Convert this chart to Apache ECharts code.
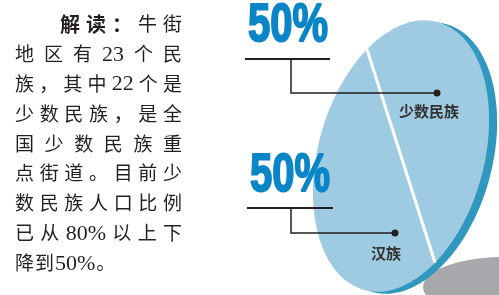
<!DOCTYPE html>
<html><head><meta charset="utf-8">
<script src="https://cdn.jsdelivr.net/npm/echarts@6/dist/echarts.min.js"></script>
<style>html,body{margin:0;padding:0;background:#fff}#c{width:499px;height:295px}</style>
</head><body><div id="c"></div>
<script>
// ---- data ----
const categories = ['少数民族', '汉族'];
const shares = [50, 50];
const introLines = ['解读：牛街', '地区有23个民', '族，其中22个是', '少数民族，是全', '国少数民族重', '点街道。目前少', '数民族人口比例', '已从80%以上下', '降到50%。'];
const introBold = '解读：';

// ---- layout / style ----
const CX = 401, CY = 156, RA = 139, RB = 83, TILT = 15.4 * Math.PI / 180;
const START = 222.5 * Math.PI / 180; // first slice boundary, local disc frame
const FACE = '#9fcbe2', RIM = '#3098bf', BLUE = '#0a86c8', INK = '#231f20';
const labelLayout = [
  { big: [288, 26], bar: [245, 330, 59], vx: 291, elbowY: 93, dot: [437, 93], name: [429, 111] },
  { big: [290, 176], bar: [247, 333, 208], vx: 291, elbowY: 233, dot: [395, 233], name: [386, 253] }
];

const chart = echarts.init(document.getElementById('c'), null, { renderer: 'canvas' });

function rotPt(lx, ly) {
  const c = Math.cos(TILT), s = Math.sin(TILT);
  return [CX + lx * c - ly * s, CY + lx * s + ly * c];
}

function renderItem(params, api) {
  const i = params.dataIndex;
  const total = shares.reduce((a, b) => a + b, 0);
  let before = 0;
  for (let k = 0; k < i; k++) before += shares[k];
  const val = api.value(0);
  const start = START + 2 * Math.PI * before / total;
  const end = start + 2 * Math.PI * val / total;
  const sx = RB / RA;
  const edge = rotPt(RA * Math.cos(start) * sx, RA * Math.sin(start));
  const L = labelLayout[i];
  return {
    type: 'group',
    children: [
      {
        type: 'group', x: CX, y: CY, scaleX: sx, rotation: -TILT,
        children: [{
          type: 'sector',
          shape: { cx: 0, cy: 0, r0: 0, r: RA, startAngle: start, endAngle: end, clockwise: true },
          style: { fill: FACE }
        }]
      },
      { type: 'line', z2: 10, shape: { x1: CX, y1: CY, x2: edge[0], y2: edge[1] }, style: { stroke: '#fff', lineWidth: 3 } },
      {
        type: 'text', x: L.big[0], y: L.big[1], scaleX: 0.74, z2: 20,
        style: { text: val + '%', fill: BLUE, stroke: BLUE, lineWidth: 2, font: 'bold 54px "Liberation Sans", Arial, sans-serif', align: 'center', verticalAlign: 'middle' }
      },
      { type: 'line', z2: 20, shape: { x1: L.bar[0], y1: L.bar[2], x2: L.bar[1], y2: L.bar[2] }, style: { stroke: INK, lineWidth: 2 } },
      {
        type: 'polyline', z2: 20,
        shape: { points: [[L.vx, L.bar[2]], [L.vx, L.elbowY], [L.dot[0], L.dot[1]]] },
        style: { stroke: INK, lineWidth: 1.5, fill: null }
      },
      { type: 'circle', z2: 21, shape: { cx: L.dot[0], cy: L.dot[1], r: 3.5 }, style: { fill: INK } },
      {
        type: 'text', x: L.name[0], y: L.name[1], z2: 21,
        style: { text: categories[i], fill: '#333', font: 'bold 15px "Noto Sans CJK SC"', align: 'center', verticalAlign: 'middle' }
      }
    ]
  };
}

// ---- intro text, justified per line ----
const mctx = document.createElement('canvas').getContext('2d');
const REG = '19px "Noto Sans CJK SC"';
const NUM = '22px "Liberation Serif"';
const BOLD = 'bold 20px "Noto Sans CJK SC"';
function tokens(line) {
  const out = [];
  const re = /[0-9%]+|./g;
  let m;
  while ((m = re.exec(line))) out.push(m[0]);
  return out;
}
const introEls = [];
introLines.forEach((line, li) => {
  const y = 24 + li * 29.85;
  let toks = [];
  let rest = line;
  if (li === 0 && line.startsWith(introBold)) {
    for (const ch of introBold) toks.push({ t: ch, f: BOLD, dy: 0 });
    rest = line.slice(introBold.length);
  }
  tokens(rest).forEach(t => toks.push(/[0-9%]/.test(t) ? { t, f: NUM, dy: 1 } : { t, f: REG, dy: 0 }));
  toks.forEach(o => { mctx.font = o.f; o.w = mctx.measureText(o.t).width; });
  const x0 = li === 0 ? 60 : 15, x1 = 182;
  const W = toks.reduce((a, o) => a + o.w, 0);
  const last = li === introLines.length - 1;
  const gap = last ? 1 : (x1 - x0 - W) / (toks.length - 1);
  let x = x0;
  toks.forEach(o => {
    introEls.push({ type: 'text', x: x, y: y + o.dy, z: 5, style: { text: o.t, font: o.f, fill: INK, align: 'left', verticalAlign: 'middle' } });
    x += o.w + gap;
  });
});

chart.setOption({
  animation: false,
  graphic: [
    { type: 'ellipse', z: 0, shape: { cx: 505, cy: 287, rx: 82, ry: 30 }, style: { fill: '#a7a8ac' } },
    { type: 'ellipse', z: 1, x: CX + 8, y: CY + 2, rotation: -TILT, shape: { cx: 0, cy: 0, rx: RB, ry: RA }, style: { fill: RIM } }
  ].concat(introEls),
  series: [{
    type: 'custom',
    coordinateSystem: 'none',
    z: 3,
    data: categories.map((c, i) => ({ name: c, value: [shares[i]] })),
    renderItem: renderItem
  }]
});
</script></body></html>
